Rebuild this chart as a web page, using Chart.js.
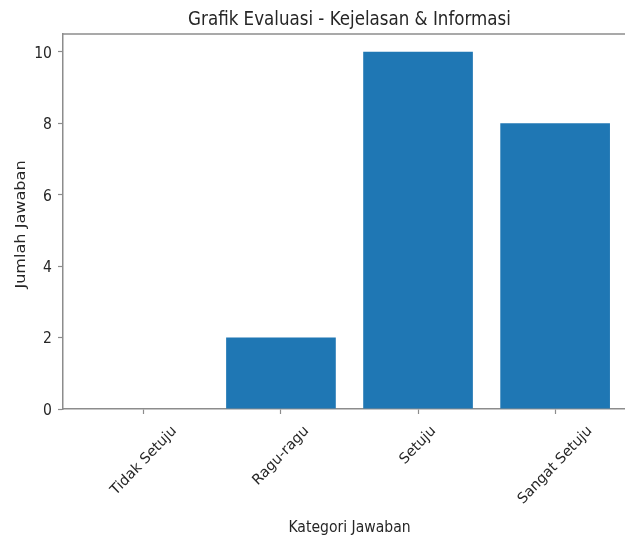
<!DOCTYPE html>
<html>
<head>
<meta charset="utf-8">
<script src="https://cdn.jsdelivr.net/npm/chart.js@4.4.1/dist/chart.umd.min.js"></script>
<style>
  html, body { margin: 0; padding: 0; background: #ffffff; overflow: hidden; }
  #wrap { width: 650px; height: 538px; }
</style>
</head>
<body>
<div id="wrap"><canvas id="c" width="650" height="538"></canvas></div>
<script>
// ---- data ----
const categories = ["Tidak Setuju", "Ragu-ragu", "Setuju", "Sangat Setuju"];
const counts = [0, 2, 10, 8];
const yTicks = [0, 2, 4, 6, 8, 10];
const chartTitle = "Grafik Evaluasi - Kejelasan & Informasi";
const xTitle = "Kategori Jawaban";
const yTitle = "Jumlah Jawaban";

const FONT = "'DejaVu Sans', sans-serif";
const TEXT = "#262626";
const SPINE = "#8c8c8c";
const K = 1.15;      // the reference image is slightly stretched vertically
const KX = 1.05;

// matplotlib-like limits: bars of width 0.8 plus 5% margins
const barW = 0.8;
const xSpan = (categories.length - 1) + barW;
const xMin = -barW / 2 - 0.05 * xSpan;
const xMax = (categories.length - 1) + barW / 2 + 0.05 * xSpan;
const yMax = Math.max(...counts) * 1.05;

function txt(ctx, s, x, y, size, rot, align, base, k) {
  ctx.save();
  ctx.translate(x, y);
  ctx.scale(1, k);
  ctx.rotate(rot);
  ctx.font = size + "px " + FONT;
  ctx.textAlign = align;
  ctx.textBaseline = base;
  ctx.fillText(s, 0, 0);
  ctx.restore();
}

const extras = {
  id: 'extras',
  afterDraw(chart) {
    const ctx = chart.ctx;
    const a = chart.chartArea;
    const xs = chart.scales.x;
    const ys = chart.scales.y;
    const cx = (a.left + a.right) / 2;
    ctx.save();
    // top spine
    ctx.strokeStyle = SPINE;
    ctx.lineWidth = 1.5;
    ctx.beginPath();
    ctx.moveTo(a.left - 0.75, a.top);
    ctx.lineTo(a.right, a.top);
    ctx.stroke();
    ctx.fillStyle = TEXT;
    // chart title
    txt(ctx, chartTitle, cx, 25, 16.7, 0, "center", "alphabetic", K);
    // x axis title
    txt(ctx, xTitle, cx, 531.5, 14, 0, "center", "alphabetic", K);
    // y axis title
    txt(ctx, yTitle, 24.5, (a.top + a.bottom) / 2 + 3, 14, -Math.PI / 2, "center", "alphabetic", K);
    // y tick labels
    yTicks.forEach(v => {
      const y = ys.getPixelForValue(v);
      txt(ctx, String(v), 52, y + 5.9, 14, 0, "right", "alphabetic", K);
    });
    // rotated x tick labels, centred on the tick (matplotlib rotation=45, ha=center)
    ctx.font = "14px " + FONT;
    const top = a.bottom + 15;
    categories.forEach((lab, i) => {
      const x = xs.getPixelForValue(i);
      const w = ctx.measureText(lab).width;
      const h = 13;
      const cy = top + KX * (w + h) * Math.SQRT1_2 / 2;
      txt(ctx, lab, x, cy, 14, -Math.PI / 4, "center", "middle", KX);
    });
    ctx.restore();
  }
};

new Chart(document.getElementById('c'), {
  type: 'bar',
  data: {
    datasets: [{
      data: counts.map((v, i) => ({ x: i, y: v })),
      backgroundColor: '#1f77b4',
      borderWidth: 0,
      barPercentage: barW,
      categoryPercentage: 1.0
    }]
  },
  plugins: [extras],
  options: {
    responsive: false,
    animation: false,
    devicePixelRatio: 1,
    layout: { padding: { top: 34, right: 14, bottom: 0, left: 0 } },
    plugins: {
      legend: { display: false },
      tooltip: { enabled: false },
      title: { display: false }
    },
    scales: {
      x: {
        type: 'linear',
        offset: false,
        min: xMin,
        max: xMax,
        afterBuildTicks: (s) => { s.ticks = categories.map((c, i) => ({ value: i })); },
        afterFit: (s) => { s.height = 129; },
        ticks: { display: false },
        grid: { offset: false, drawOnChartArea: false, drawTicks: true, tickLength: 5, tickColor: SPINE, tickWidth: 1.2 },
        border: { display: true, color: SPINE, width: 1.5 },
        title: { display: false }
      },
      y: {
        min: 0,
        max: yMax,
        afterBuildTicks: (s) => { s.ticks = yTicks.map(v => ({ value: v })); },
        afterFit: (s) => { s.width = 63; },
        ticks: { display: false },
        grid: { drawOnChartArea: false, drawTicks: true, tickLength: 5, tickColor: SPINE, tickWidth: 1.2 },
        border: { display: true, color: SPINE, width: 1.5 },
        title: { display: false }
      }
    }
  }
});
</script>
</body>
</html>
